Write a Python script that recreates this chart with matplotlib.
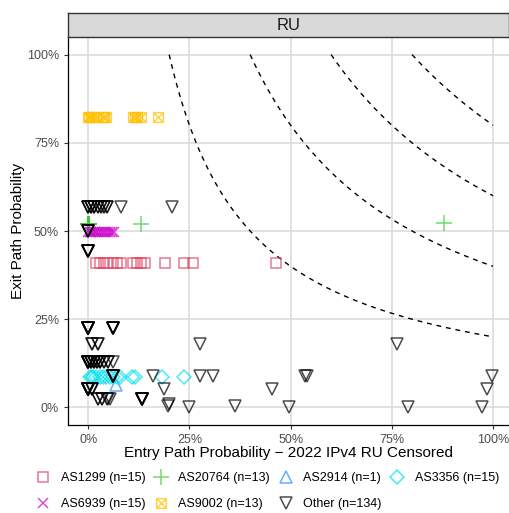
import matplotlib.pyplot as plt
import numpy as np
from matplotlib.path import Path
from matplotlib.lines import Line2D

plt.rcParams['font.family'] = ['Liberation Sans', 'DejaVu Sans']

# AS1299 (squares)
as1299_x = [0.02, 0.03, 0.04, 0.05, 0.06, 0.07, 0.08, 0.11, 0.12, 0.13, 0.14, 0.19, 0.237, 0.26, 0.464]
as1299_y = [0.41] * 15

# AS20764 (plus)
as20764_x = [0.0, 0.0, 0.0, 0.002, 0.002, 0.003, 0.0, 0.001, 0.001, 0.0, 0.002, 0.13, 0.88]
as20764_y = [0.52, 0.52, 0.52, 0.52, 0.52, 0.52, 0.52, 0.52, 0.52, 0.52, 0.52, 0.52, 0.522]

# AS2914 (triangle up)
as2914_x = [0.069]
as2914_y = [0.063]

# AS3356 (diamonds)
as3356_x = [0.005, 0.01, 0.012, 0.02, 0.03, 0.037, 0.044, 0.054, 0.062, 0.072, 0.079, 0.109, 0.116, 0.183, 0.237]
as3356_y = [0.087] * 15

# AS6939 (x)
as6939_x = [0.0, 0.004, 0.008, 0.012, 0.016, 0.02, 0.024, 0.028, 0.033, 0.038, 0.043, 0.048, 0.053, 0.058, 0.064]
as6939_y = [0.496] * 15

# AS9002 (boxed x)
as9002_x = [0.0, 0.003, 0.008, 0.012, 0.02, 0.036, 0.04, 0.045, 0.11, 0.115, 0.12, 0.13, 0.173]
as9002_y = [0.823] * 13

# Other (triangle down)
other_x = ([0.0] * 3 + [0.007] * 3 + [0.015] * 3 + [0.025] * 2 + [0.032] * 2 + [0.04] * 2 + [0.047] * 2 + [0.081, 0.207]
           + [0.0] * 4
           + [0.0] * 6
           + [0.0] * 11 + [0.06] * 6
           + [0.01] * 2 + [0.025] * 2 + [0.277, 0.762]
           + [0.0] * 10 + [0.008] * 4 + [0.015] * 4 + [0.022] * 3 + [0.03] * 3 + [0.04] * 2 + [0.05] * 2 + [0.06]
           + [0.06] * 7 + [0.161, 0.277, 0.309, 0.536, 0.54, 0.997]
           + [0.0] * 12 + [0.01] * 3 + [0.186, 0.453, 0.984]
           + [0.025] * 2 + [0.035] * 2 + [0.046, 0.05, 0.054] + [0.133] * 8
           + [0.198, 0.2, 0.248, 0.363, 0.495, 0.79, 0.972])
other_y = ([0.567] * 19
           + [0.50] * 4
           + [0.444] * 6
           + [0.225] * 17
           + [0.18] * 6
           + [0.128] * 29
           + [0.09] * 13
           + [0.052] * 18
           + [0.024] * 15
           + [0.005, 0.01, 0.0, 0.005, 0.0, 0.0, 0.0])

labels = ['AS1299 (n=15)', 'AS20764 (n=13)', 'AS2914 (n=1)', 'AS3356 (n=15)',
          'AS6939 (n=15)', 'AS9002 (n=13)', 'Other (n=134)']
colors = ['#E0405E', '#33CC33', '#1E90FF', '#00E0EE', '#CC00CC', '#FFC000', '#000000']

# square with an x inside (ggplot shape 7)
boxx = Path([(-1, -1), (1, -1), (1, 1), (-1, 1), (-1, -1), (-1, -1), (1, 1), (-1, 1), (1, -1)],
            [Path.MOVETO, Path.LINETO, Path.LINETO, Path.LINETO, Path.CLOSEPOLY,
             Path.MOVETO, Path.LINETO, Path.MOVETO, Path.LINETO])

series = [
    (as1299_x, as1299_y, 's', 7),
    (as20764_x, as20764_y, '+', 11),
    (as2914_x, as2914_y, '^', 9),
    (as3356_x, as3356_y, 'D', 7),
    (as6939_x, as6939_y, 'x', 7),
    (as9002_x, as9002_y, boxx, 7),
    (other_x, other_y, 'v', 9),
]

fig = plt.figure(figsize=(5.1, 5.13), dpi=100)
ax = fig.add_axes([68 / 510, 1 - 425 / 513, 442 / 510, 388 / 513])

# dashed iso-curves x*y = c
for c in [0.2, 0.4, 0.6, 0.8]:
    xs = np.linspace(c, 1, 200)
    ax.plot(xs, c / xs, color='black', ls=(0, (3.5, 3.5)), lw=1, zorder=2)

handles = []
for (xs, ys, m, ms), lab, col in zip(series, labels, colors):
    ax.plot(xs, ys, ls='none', marker=m, ms=ms, mfc='none', mec=col, mew=1.1,
            alpha=0.7, zorder=3)
    handles.append(Line2D([], [], ls='none', marker=m, ms=ms, mfc='none', mec=col,
                          mew=1.1, alpha=0.7, label=lab))

ax.set_xlim(-0.05, 1.042)
ax.set_ylim(-0.05, 1.05)
ticks = [0, 0.25, 0.5, 0.75, 1.0]
ax.set_xticks(ticks)
ax.set_yticks(ticks)
ax.set_xticklabels(['0%', '25%', '50%', '75%', '100%'])
ax.set_yticklabels(['0%', '25%', '50%', '75%', '100%'])
ax.tick_params(labelsize=9, labelcolor='#4D4D4D', color='#333333', length=3, width=0.8)
ax.grid(True, color='#D9D9D9', lw=1.1, zorder=0)
ax.set_axisbelow(True)
for s in ['top', 'right']:
    ax.spines[s].set_visible(False)
for s in ['left', 'bottom']:
    ax.spines[s].set_color('black')
    ax.spines[s].set_linewidth(0.9)

ax.set_xlabel('Entry Path Probability \u2212 2022 IPv4 RU Censored', fontsize=11, labelpad=0)
ax.set_ylabel('Exit Path Probability', fontsize=11, labelpad=1)

# facet strip
strip = fig.add_axes([68 / 510, 1 - 37 / 513, 441 / 510, 24 / 513])
strip.set_facecolor('#D9D9D9')
strip.set_xticks([])
strip.set_yticks([])
for s in strip.spines.values():
    s.set_color('#333333')
    s.set_linewidth(1.0)
strip.text(0.5, 0.48, 'RU', ha='center', va='center', fontsize=12, color='#1A1A1A',
           transform=strip.transAxes)

order = [0, 4, 1, 5, 2, 6, 3]
fig.legend([handles[i] for i in order], [labels[i] for i in order], ncol=4,
           loc='center', bbox_to_anchor=(268 / 510, 1 - 491 / 513), frameon=False,
           fontsize=9, handlelength=1.0, handletextpad=0.9, columnspacing=0.75,
           labelspacing=1.1)

fig.savefig('out.png', dpi=100)
